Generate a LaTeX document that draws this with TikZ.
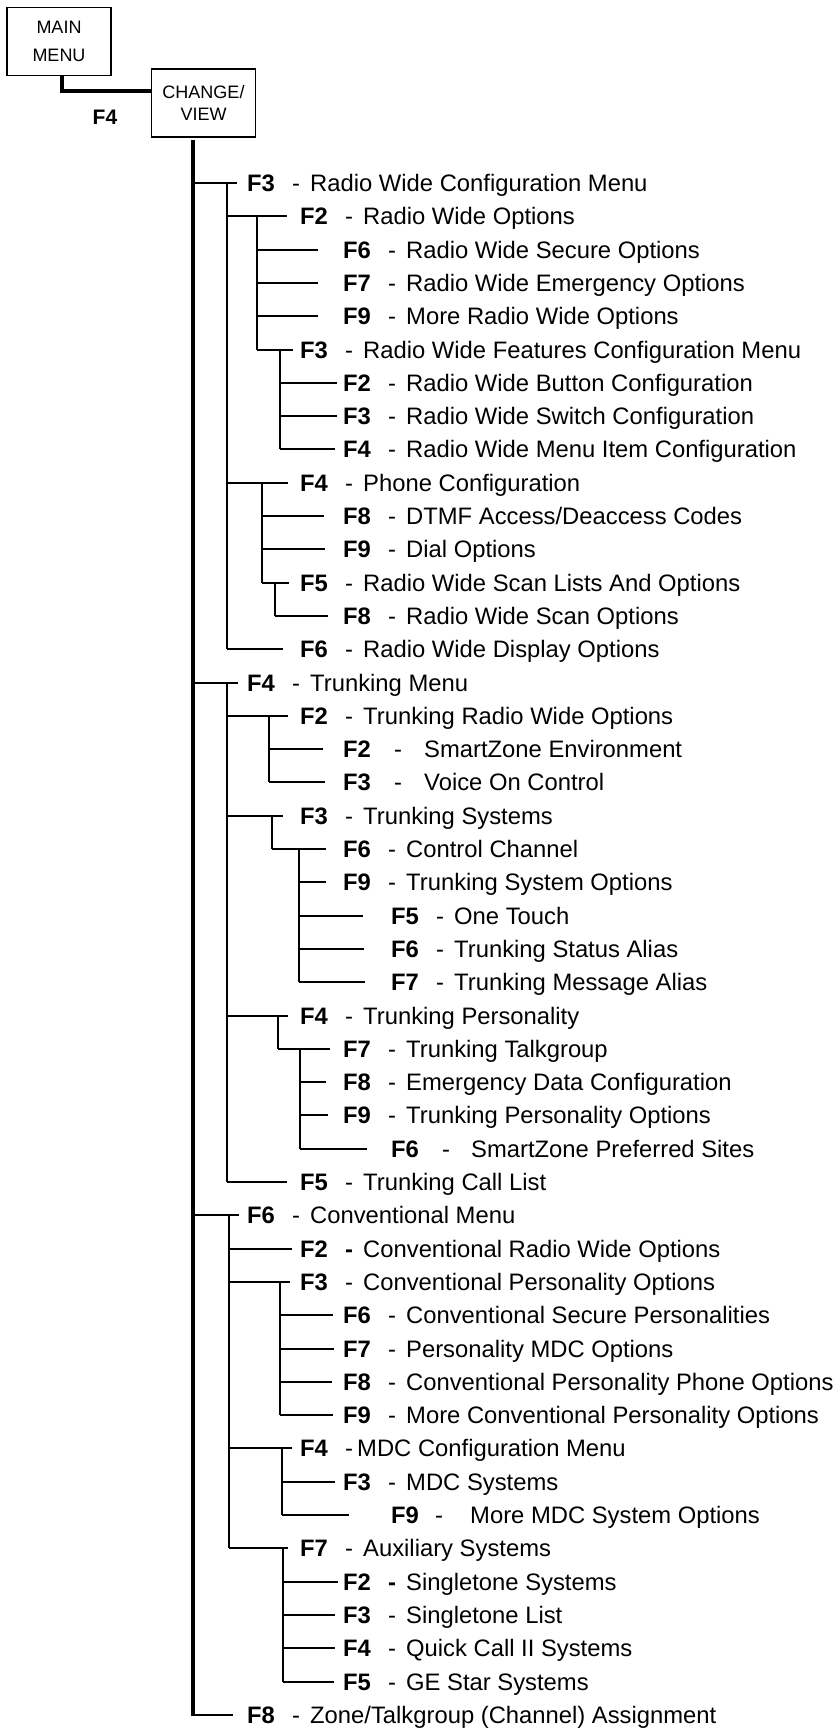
\documentclass[tikz,border=0pt]{standalone}
\usepackage{fontspec}
\setmainfont{Liberation Sans}
\usepackage{tikz}
\newcommand{\fkx}[5]{\makebox[#1][l]{\bfseries #2}\makebox[#3][l]{#4}#5}
\newcommand{\fk}[2]{\fkx{45pt}{#1}{18pt}{-}{#2}}

\begin{document}
\begin{tikzpicture}[x=1pt, y=-1pt,
    box/.style={draw, line width=1.3pt, align=center, inner sep=0pt,
                minimum width=104pt, minimum height=68pt},
    menuitem/.style={anchor=west, inner sep=0pt, text height=22pt, text depth=5pt,
                font=\fontsize{23.8}{28}\selectfont},
    trunk/.style={line width=4.6pt},
    branch/.style={line width=2.7pt},
    twig/.style={line width=1.3pt},
    vbar/.style={line width=2.3pt},
    vbarm/.style={line width=2pt},
    vbars/.style={line width=1.4pt}
]
\useasboundingbox (0,0) rectangle (837,1731);
\node[box, font=\fontsize{18}{28}\selectfont] (main) at (59,41.5) {MAIN\\MENU};
\node[box, font=\fontsize{18}{22}\selectfont] (chg) at (203.5,103) {CHANGE/\\VIEW};
\node[font=\fontsize{21}{24}\selectfont\bfseries] (f4) at (105,117) {F4};
\draw[trunk] ([xshift=3pt]main.south) |- ([yshift=12pt]chg.west);

% bar positions
\coordinate (tr) at (193,140);
\coordinate (rwc) at (227,0); \coordinate (rwo) at (257,0); \coordinate (rwf) at (280,0);
\coordinate (phn) at (262,0); \coordinate (scn) at (275,0);
\coordinate (trk) at (227,0); \coordinate (trw) at (269,0); \coordinate (tsy) at (272,0);
\coordinate (tso) at (299,0); \coordinate (tpe) at (278,0); \coordinate (ttg) at (300,0);
\coordinate (cnv) at (229,0); \coordinate (cpo) at (280,0); \coordinate (mdc) at (282,0);
\coordinate (aux) at (283,0);

% Radio Wide Configuration
\node[menuitem] (r1)  at (247,183)  {\fk{F3}{Radio Wide Configuration Menu}};
\node[menuitem] (r2)  at (300,216)  {\fk{F2}{Radio Wide Options}};
\node[menuitem] (r3)  at (343,250)  {\fk{F6}{Radio Wide Secure Options}};
\node[menuitem] (r4)  at (343,283)  {\fk{F7}{Radio Wide Emergency Options}};
\node[menuitem] (r5)  at (343,316)  {\fk{F9}{More Radio Wide Options}};
\node[menuitem] (r6)  at (300,350)  {\fk{F3}{Radio Wide Features Configuration Menu}};
\node[menuitem] (r7)  at (343,383)  {\fk{F2}{Radio Wide Button Configuration}};
\node[menuitem] (r8)  at (343,416)  {\fk{F3}{Radio Wide Switch Configuration}};
\node[menuitem] (r9)  at (343,449)  {\fk{F4}{Radio Wide Menu Item Configuration}};
\node[menuitem] (r10) at (300,483)  {\fk{F4}{Phone Configuration}};
\node[menuitem] (r11) at (343,516)  {\fk{F8}{DTMF Access/Deaccess Codes}};
\node[menuitem] (r12) at (343,549)  {\fk{F9}{Dial Options}};
\node[menuitem] (r13) at (300,583)  {\fk{F5}{Radio Wide Scan Lists And Options}};
\node[menuitem] (r14) at (343,616)  {\fk{F8}{Radio Wide Scan Options}};
\node[menuitem] (r15) at (300,649)  {\fk{F6}{Radio Wide Display Options}};
% Trunking
\node[menuitem] (r16) at (247,683)  {\fk{F4}{Trunking Menu}};
\node[menuitem] (r17) at (300,716)  {\fk{F2}{Trunking Radio Wide Options}};
\node[menuitem] (r18) at (343,749)  {\fkx{51pt}{F2}{30pt}{-}{SmartZone Environment}};
\node[menuitem] (r19) at (343,782)  {\fkx{51pt}{F3}{30pt}{-}{Voice On Control}};
\node[menuitem] (r20) at (300,816)  {\fk{F3}{Trunking Systems}};
\node[menuitem] (r21) at (343,849)  {\fk{F6}{Control Channel}};
\node[menuitem] (r22) at (343,882)  {\fk{F9}{Trunking System Options}};
\node[menuitem] (r23) at (391,916)  {\fk{F5}{One Touch}};
\node[menuitem] (r24) at (391,949)  {\fk{F6}{Trunking Status Alias}};
\node[menuitem] (r25) at (391,982)  {\fk{F7}{Trunking Message Alias}};
\node[menuitem] (r26) at (300,1016) {\fk{F4}{Trunking Personality}};
\node[menuitem] (r27) at (343,1049) {\fk{F7}{Trunking Talkgroup}};
\node[menuitem] (r28) at (343,1082) {\fk{F8}{Emergency Data Configuration}};
\node[menuitem] (r29) at (343,1115) {\fk{F9}{Trunking Personality Options}};
\node[menuitem] (r30) at (391,1149) {\fkx{51pt}{F6}{29pt}{-}{SmartZone Preferred Sites}};
\node[menuitem] (r31) at (300,1182) {\fk{F5}{Trunking Call List}};
% Conventional
\node[menuitem] (r32) at (247,1215) {\fk{F6}{Conventional Menu}};
\node[menuitem] (r33) at (300,1249) {\fkx{45pt}{F2}{18pt}{\bfseries -}{Conventional Radio Wide Options}};
\node[menuitem] (r34) at (300,1282) {\fk{F3}{Conventional Personality Options}};
\node[menuitem] (r35) at (343,1315) {\fk{F6}{Conventional Secure Personalities}};
\node[menuitem] (r36) at (343,1349) {\fk{F7}{Personality MDC Options}};
\node[menuitem] (r37) at (343,1382) {\fk{F8}{Conventional Personality Phone Options}};
\node[menuitem] (r38) at (343,1415) {\fk{F9}{More Conventional Personality Options}};
\node[menuitem] (r39) at (300,1448) {\fkx{45pt}{F4}{12pt}{-}{MDC Configuration Menu}};
\node[menuitem] (r40) at (343,1482) {\fk{F3}{MDC Systems}};
\node[menuitem] (r41) at (391,1515) {\fkx{44pt}{F9}{35pt}{-}{More MDC System Options}};
\node[menuitem] (r42) at (300,1548) {\fk{F7}{Auxiliary Systems}};
\node[menuitem] (r43) at (343,1582) {\fkx{45pt}{F2}{18pt}{\bfseries -}{Singletone Systems}};
\node[menuitem] (r44) at (343,1615) {\fk{F3}{Singletone List}};
\node[menuitem] (r45) at (343,1648) {\fk{F4}{Quick Call II Systems}};
\node[menuitem] (r46) at (343,1682) {\fk{F5}{GE Star Systems}};
\node[menuitem] (r47) at (247,1715) {\fk{F8}{Zone/Talkgroup (Channel) Assignment}};

% trunk and vertical bars
\draw[trunk, shorten >=-1.3pt] (tr) -- (tr |- r47.west);
\draw[vbar] (rwc |- r1.west) -- (rwc |- r15.west);
\draw[vbarm] (rwo |- r2.west) -- (rwo |- r6.west);
\draw[vbars] (rwf |- r6.west) -- (rwf |- r9.west);
\draw[vbarm] (phn |- r10.west) -- (phn |- r13.west);
\draw[vbarm] (scn |- r13.west) -- (scn |- r14.west);
\draw[vbar] (trk |- r16.west) -- (trk |- r31.west);
\draw[vbarm] (trw |- r17.west) -- (trw |- r19.west);
\draw[vbarm] (tsy |- r20.west) -- (tsy |- r21.west);
\draw[vbars] (tso |- r21.west) -- (tso |- r25.west);
\draw[vbarm] (tpe |- r26.west) -- (tpe |- r27.west);
\draw[vbars] (ttg |- r27.west) -- (ttg |- r30.west);
\draw[vbar] (cnv |- r32.west) -- (cnv |- r42.west);
\draw[vbars] (cpo |- r34.west) -- (cpo |- r38.west);
\draw[vbars] (mdc |- r39.west) -- (mdc |- r41.west);
\draw[vbars] (aux |- r42.west) -- (aux |- r46.west);

% branches
\draw[branch] (tr |- r1.west) -- ([xshift=-10pt]r1.west);
\draw[branch] (tr |- r16.west) -- ([xshift=-9pt]r16.west);
\draw[branch] (tr |- r32.west) -- ([xshift=-8pt]r32.west);
\draw[branch] (tr |- r47.west) -- ([xshift=-14pt]r47.west);
\draw[twig] (rwc |- r2.west) -- ([xshift=-13pt]r2.west);
\draw[twig] (rwo |- r3.west) -- ([xshift=-25pt]r3.west); \draw[twig] (rwo |- r4.west) -- ([xshift=-25pt]r4.west);
\draw[twig] (rwo |- r5.west) -- ([xshift=-25pt]r5.west); \draw[twig] (rwo |- r6.west) -- ([xshift=-7pt]r6.west);
\draw[twig] (rwf |- r7.west) -- ([xshift=-6pt]r7.west); \draw[twig] (rwf |- r8.west) -- ([xshift=-6pt]r8.west);
\draw[twig] (rwf |- r9.west) -- ([xshift=-8pt]r9.west);
\draw[twig] (rwc |- r10.west) -- ([xshift=-12pt]r10.west);
\draw[twig] (phn |- r11.west) -- ([xshift=-19pt]r11.west); \draw[twig] (phn |- r12.west) -- ([xshift=-18pt]r12.west);
\draw[twig] (phn |- r13.west) -- ([xshift=-11pt]r13.west); \draw[twig] (scn |- r14.west) -- ([xshift=-15pt]r14.west);
\draw[twig] (rwc |- r15.west) -- ([xshift=-17pt]r15.west);
\draw[twig] (trk |- r17.west) -- ([xshift=-12pt]r17.west);
\draw[twig] (trw |- r18.west) -- ([xshift=-20pt]r18.west); \draw[twig] (trw |- r19.west) -- ([xshift=-18pt]r19.west);
\draw[twig] (trk |- r20.west) -- ([xshift=-17pt]r20.west); \draw[twig] (tsy |- r21.west) -- ([xshift=-17pt]r21.west);
\draw[twig] (tso |- r22.west) -- ([xshift=-17pt]r22.west); \draw[twig] (tso |- r23.west) -- ([xshift=-28pt]r23.west);
\draw[twig] (tso |- r24.west) -- ([xshift=-27pt]r24.west); \draw[twig] (tso |- r25.west) -- ([xshift=-26pt]r25.west);
\draw[twig] (trk |- r26.west) -- ([xshift=-12pt]r26.west); \draw[twig] (tpe |- r27.west) -- ([xshift=-13pt]r27.west);
\draw[twig] (ttg |- r28.west) -- ([xshift=-17pt]r28.west); \draw[twig] (ttg |- r29.west) -- ([xshift=-15pt]r29.west);
\draw[twig] (ttg |- r30.west) -- ([xshift=-24pt]r30.west);
\draw[twig] (trk |- r31.west) -- ([xshift=-13pt]r31.west);
\draw[twig] (cnv |- r33.west) -- ([xshift=-8pt]r33.west); \draw[twig] (cnv |- r34.west) -- ([xshift=-10pt]r34.west);
\draw[twig] (cpo |- r35.west) -- ([xshift=-10pt]r35.west); \draw[twig] (cpo |- r36.west) -- ([xshift=-9pt]r36.west);
\draw[twig] (cpo |- r37.west) -- ([xshift=-11pt]r37.west); \draw[twig] (cpo |- r38.west) -- ([xshift=-10pt]r38.west);
\draw[twig] (cnv |- r39.west) -- ([xshift=-8pt]r39.west);
\draw[twig] (mdc |- r40.west) -- ([xshift=-8pt]r40.west); \draw[twig] (mdc |- r41.west) -- ([xshift=-42pt]r41.west);
\draw[twig] (cnv |- r42.west) -- ([xshift=-12pt]r42.west);
\draw[twig] (aux |- r43.west) -- ([xshift=-5pt]r43.west); \draw[twig] (aux |- r44.west) -- ([xshift=-8pt]r44.west);
\draw[twig] (aux |- r45.west) -- ([xshift=-8pt]r45.west); \draw[twig] (aux |- r46.west) -- ([xshift=-9pt]r46.west);
\end{tikzpicture}
\end{document}
